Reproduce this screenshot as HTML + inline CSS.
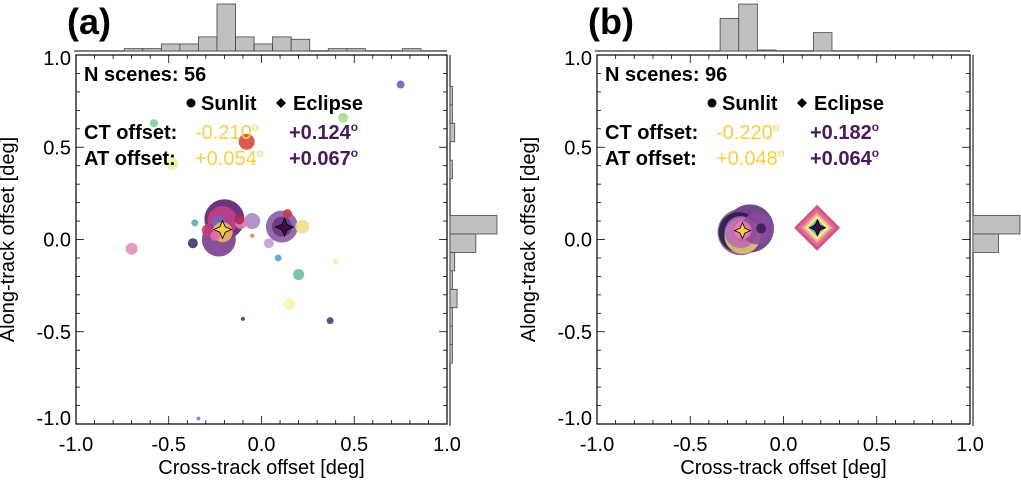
<!DOCTYPE html>
<html><head><meta charset="utf-8">
<style>
body{margin:0;background:#fff;}
svg{display:block;font-family:"Liberation Sans",sans-serif;}
</style></head><body>
<svg id="fig" width="1021" height="481" viewBox="0 0 1021 481" xmlns="http://www.w3.org/2000/svg"></svg>
<script>
// ---- data ----
const tickValues = [-1.0, -0.5, 0.0, 0.5, 1.0];
const tickLabels = ["-1.0", "-0.5", "0.0", "0.5", "1.0"];
// panel a scene points: x, y (deg), radius, color
const aPtsX = [-0.20,-0.21,-0.23,-0.23,-0.21,-0.05,-0.11,-0.12,-0.29,-0.25,-0.36,-0.37,-0.70,0.11,0.11,0.14,0.22,-0.05,0.04,0.09,0.20,0.40,0.15,-0.10,0.37,-0.34,0.75,-0.58,0.44,-0.08,-0.48];
const aPtsY = [0.11,0.10,0.00,0.09,0.04,0.10,0.09,0.11,0.05,0.02,0.09,-0.02,-0.05,0.07,0.07,0.14,0.07,0.02,-0.02,-0.10,-0.19,-0.12,-0.35,-0.43,-0.44,-0.97,0.84,0.63,0.66,0.53,0.41];
const aPtsR = [20,15,17,7,10,8,6,5,6,5,3.5,5,6,16,10,4.5,7,2,5,3.5,5.5,3,6,2,3.5,2,4,4,5,8,6];
const aPtsC = ["#5c1f6e","#c0408a","#7b3d8f","#6e6ab8","#e8b860","#a98ac4","#e080b0","#a82860","#c63a7a","#e06aa8","#5aaead","#3a3a5e","#e090c0","#8a5aa6","#6c3484","#c83848","#f0e08c","#e8803a","#c0a0d8","#5ca0c8","#6cc09c","#f4f0a0","#f8f4b0","#8a1e5a","#4e3a7a","#5a90d8","#6e62b8","#7fcf9f","#a8dc8a","#d9483b","#eef0a0"];
// panel b
const bCircX = [-0.18,-0.23,-0.24,-0.22,-0.23,-0.21,-0.14,-0.12,-0.22];
const bCircY = [0.06,0.04,0.04,0.02,0.04,0.05,0.06,0.06,0.05];
const bCircR = [24,23,20,18,16,12,16,5,9];
const bCircC = ["#5c2a76","#7b3d8f","#1e1e3e","#f0d070","#b86ac0","#d060a0","#8a4a9e","#3a1a50","#e080b8"];
const bDiaX = [0.18,0.18,0.18,0.18,0.18,0.18];
const bDiaY = [0.064,0.064,0.064,0.064,0.064,0.064];
const bDiaS = [23,19,15,12,9,6];
const bDiaC = ["#d04070","#e070b0","#f0c070","#f8f0a0","#70c0b0","#2a1a40"];
// histograms: bin start, counts
const aTopBins = [-0.74,-0.64,-0.54,-0.44,-0.34,-0.24,-0.14,-0.04,0.06,0.16,0.36,0.46,0.76];
const aTopCounts = [1,1,3,3,6,20,6,3,6,5,1,1,1];
const aRightBins = [0.03,-0.07,-0.17,-0.27,-0.37,-0.47,-0.57,-0.67,0.33,0.53,0.63,0.73];
const aRightCounts = [20,11,2,1,3,1,1,1,1,2,1,1];
const bTopBins = [-0.34,-0.24,-0.14,0.16];
const bTopCounts = [32,46,1,18];
const bRightBins = [0.03,-0.07];
const bRightCounts = [46,25];

const svg = document.getElementById('fig');
const NS = "http://www.w3.org/2000/svg";
function mk(tag, attrs, parent){const e=document.createElementNS(NS,tag);for(const k in attrs)e.setAttribute(k,attrs[k]);(parent||svg).appendChild(e);return e;}
function txt(s, attrs, parent){const e=mk('text',attrs,parent);e.textContent=s;return e;}

function panel(L, R, T, B, id) {
  const sx = v => L + (v + 1) / 2 * (R - L);
  const sy = v => B - (v + 1) / 2 * (B - T);
  const g = mk('g', {});
  
  
  return {sx, sy, g, L, R, T, B};
}

function valText(s, x, y, fill, bold, parent) {
  const t = txt(s, {x:x, y:y, 'font-size':20, fill:fill, 'font-weight':bold?'bold':'normal'}, parent);
  const sp = mk('tspan', {'font-size':12, dy:-8}, t);
  sp.textContent = 'o';
  return t;
}

function drawAxes(P, id, label, nScenes, ct1, ct2, at1, at2) {
  const {sx, sy, g, L, R, T, B} = P;
  const fr = mk('rect', {x:L, y:T, width:R-L, height:B-T, fill:'none', stroke:'#000', 'stroke-width':1.2}, g);
  
  
  for (let i = 0; i <= 20; i++) {
    const v = -1 + i * 0.1;
    const major = i % 5 === 0;
    const len = major ? 8 : 4;
    const x = sx(v), y = sy(v);
    mk('line', {x1:x, y1:B, x2:x, y2:B-len, stroke:'#000','stroke-width':0.8}, g);
    mk('line', {x1:x, y1:T, x2:x, y2:T+len, stroke:'#000','stroke-width':0.8}, g);
    mk('line', {x1:L, y1:y, x2:L+len, y2:y, stroke:'#000','stroke-width':0.8}, g);
    mk('line', {x1:R, y1:y, x2:R-len, y2:y, stroke:'#000','stroke-width':0.8}, g);
  }
  tickValues.forEach((v, i) => {
    const t = txt(tickLabels[i], {x:sx(v), y:B+27, 'font-size':20, 'text-anchor':'middle', fill:'#000'}, g);
    
    
    let yy = sy(v) + 7;
    if (v === -1) yy -= 6; if (v === 1) yy += 3;
    const t2 = txt(tickLabels[i], {x:L-5, y:yy, 'font-size':20, 'text-anchor':'end', fill:'#000'}, g);
    
    
  });
  const xt = txt('Cross-track offset [deg]', {x:(L+R)/2, y:B+50, 'font-size':20, 'text-anchor':'middle'}, g);
  
  
  const cy = (T+B)/2;
  const yx = L - 62;
  const yt = txt('Along-track offset [deg]', {x:yx, y:cy, 'font-size':20, 'text-anchor':'middle', transform:`rotate(-90 ${yx} ${cy})`}, g);
  
  
  const pl = txt(label, {x:L-9, y:34, 'font-size':36, 'font-weight':'bold'}, g);
  
  
  const tx = L + 8;
  const n = txt('N scenes: ' + nScenes, {x:tx, y:T+26, 'font-size':20, 'font-weight':'bold'}, g);
  
  
  const leg = mk('g', {}, g);
  
  
  mk('circle', {cx:tx+107, cy:T+48, r:4.5, fill:'#000'}, leg);
  txt('Sunlit', {x:tx+117, y:T+55, 'font-size':20, 'font-weight':'bold'}, leg);
  mk('polygon', {points:`${tx+197},${T+43} ${tx+202},${T+48} ${tx+197},${T+53} ${tx+192},${T+48}`, fill:'#000'}, leg);
  txt('Eclipse', {x:tx+209, y:T+55, 'font-size':20, 'font-weight':'bold'}, leg);
  const rows = [['CT offset:', ct1, ct2, T+84], ['AT offset:', at1, at2, T+110]];
  rows.forEach(r => {
    const lt = txt(r[0], {x:tx, y:r[3], 'font-size':20, 'font-weight':'bold'}, g);
    
    
    const v1 = valText(r[1], tx+111, r[3], '#f6cf45', false, g);
    
    
    const v2 = valText(r[2], tx+205, r[3], '#4b1a5c', true, g);
    
    
  });
}

function hists(P, topBins, topCounts, rightBins, rightCounts, scale, id) {
  const {sx, sy, g, L, R, T, B} = P;
  const base = T - 4;
  const ht = mk('g', {}, g);
  
  
  mk('line', {x1:L-2, y1:base, x2:R, y2:base, stroke:'#000', 'stroke-width':1}, ht);
  topBins.forEach((b, i) => {
    const h = topCounts[i] * scale;
    const r = mk('rect', {x:sx(b), y:base-h, width:sx(b+0.1)-sx(b), height:h, fill:'#c0c0c0', stroke:'#444', 'stroke-width':0.8}, ht);
    
    
  });
  const xb = R + 3;
  const hr = mk('g', {}, g);
  
  
  mk('line', {x1:xb, y1:T, x2:xb, y2:B+2, stroke:'#000', 'stroke-width':1}, hr);
  rightBins.forEach((b, i) => {
    const w = rightCounts[i] * scale;
    const r = mk('rect', {x:xb, y:sy(b+0.1), width:w, height:sy(b)-sy(b+0.1), fill:'#c0c0c0', stroke:'#444', 'stroke-width':0.8}, hr);
    
    
  });
}

function star(cx, cy, s, fill, parent) {
  const i = s * 0.3;
  return mk('polygon', {points:`${cx},${cy-s} ${cx+i},${cy-i} ${cx+s},${cy} ${cx+i},${cy+i} ${cx},${cy+s} ${cx-i},${cy+i} ${cx-s},${cy} ${cx-i},${cy-i}`, fill:fill, stroke:'#000', 'stroke-width':0.8}, parent);
}

// Panel a
const A = panel(76, 447, 55, 424, 'a');
const sa = mk('g', {}, A.g);


aPtsX.forEach((x, i) => {
  const c = mk('circle', {cx:A.sx(x), cy:A.sy(aPtsY[i]), r:aPtsR[i], fill:aPtsC[i], 'fill-opacity':0.9}, sa);
  
  
});
const s1 = star(A.sx(-0.210), A.sy(0.054), 9, '#f6cf45', A.g);


const s2 = star(A.sx(0.124), A.sy(0.067), 9, '#3a1040', A.g);


drawAxes(A, 'a', '(a)', 56, '-0.210', '+0.124', '+0.054', '+0.067');
hists(A, aTopBins, aTopCounts, aRightBins, aRightCounts, 2.35, 'a');

// Panel b
const Bp = panel(597, 970, 55, 424, 'b');
const sb = mk('g', {}, Bp.g);


bCircX.forEach((x, i) => {
  const c = mk('circle', {cx:Bp.sx(x), cy:Bp.sy(bCircY[i]), r:bCircR[i], fill:bCircC[i], 'fill-opacity':0.85}, sb);
  
  
});
bDiaX.forEach((x, i) => {
  const cx = Bp.sx(x), cy = Bp.sy(bDiaY[i]), s = bDiaS[i];
  const d = mk('polygon', {points:`${cx},${cy-s} ${cx+s},${cy} ${cx},${cy+s} ${cx-s},${cy}`, fill:bDiaC[i], 'fill-opacity':0.9}, sb);
  
  
});
const s3 = star(Bp.sx(-0.220), Bp.sy(0.048), 8, '#f6cf45', Bp.g);


const s4 = star(Bp.sx(0.182), Bp.sy(0.064), 8, '#3a1040', Bp.g);


drawAxes(Bp, 'b', '(b)', 96, '-0.220', '+0.182', '+0.048', '+0.064');
hists(Bp, bTopBins, bTopCounts, bRightBins, bRightCounts, 1.02, 'b');
</script>
</body></html>
